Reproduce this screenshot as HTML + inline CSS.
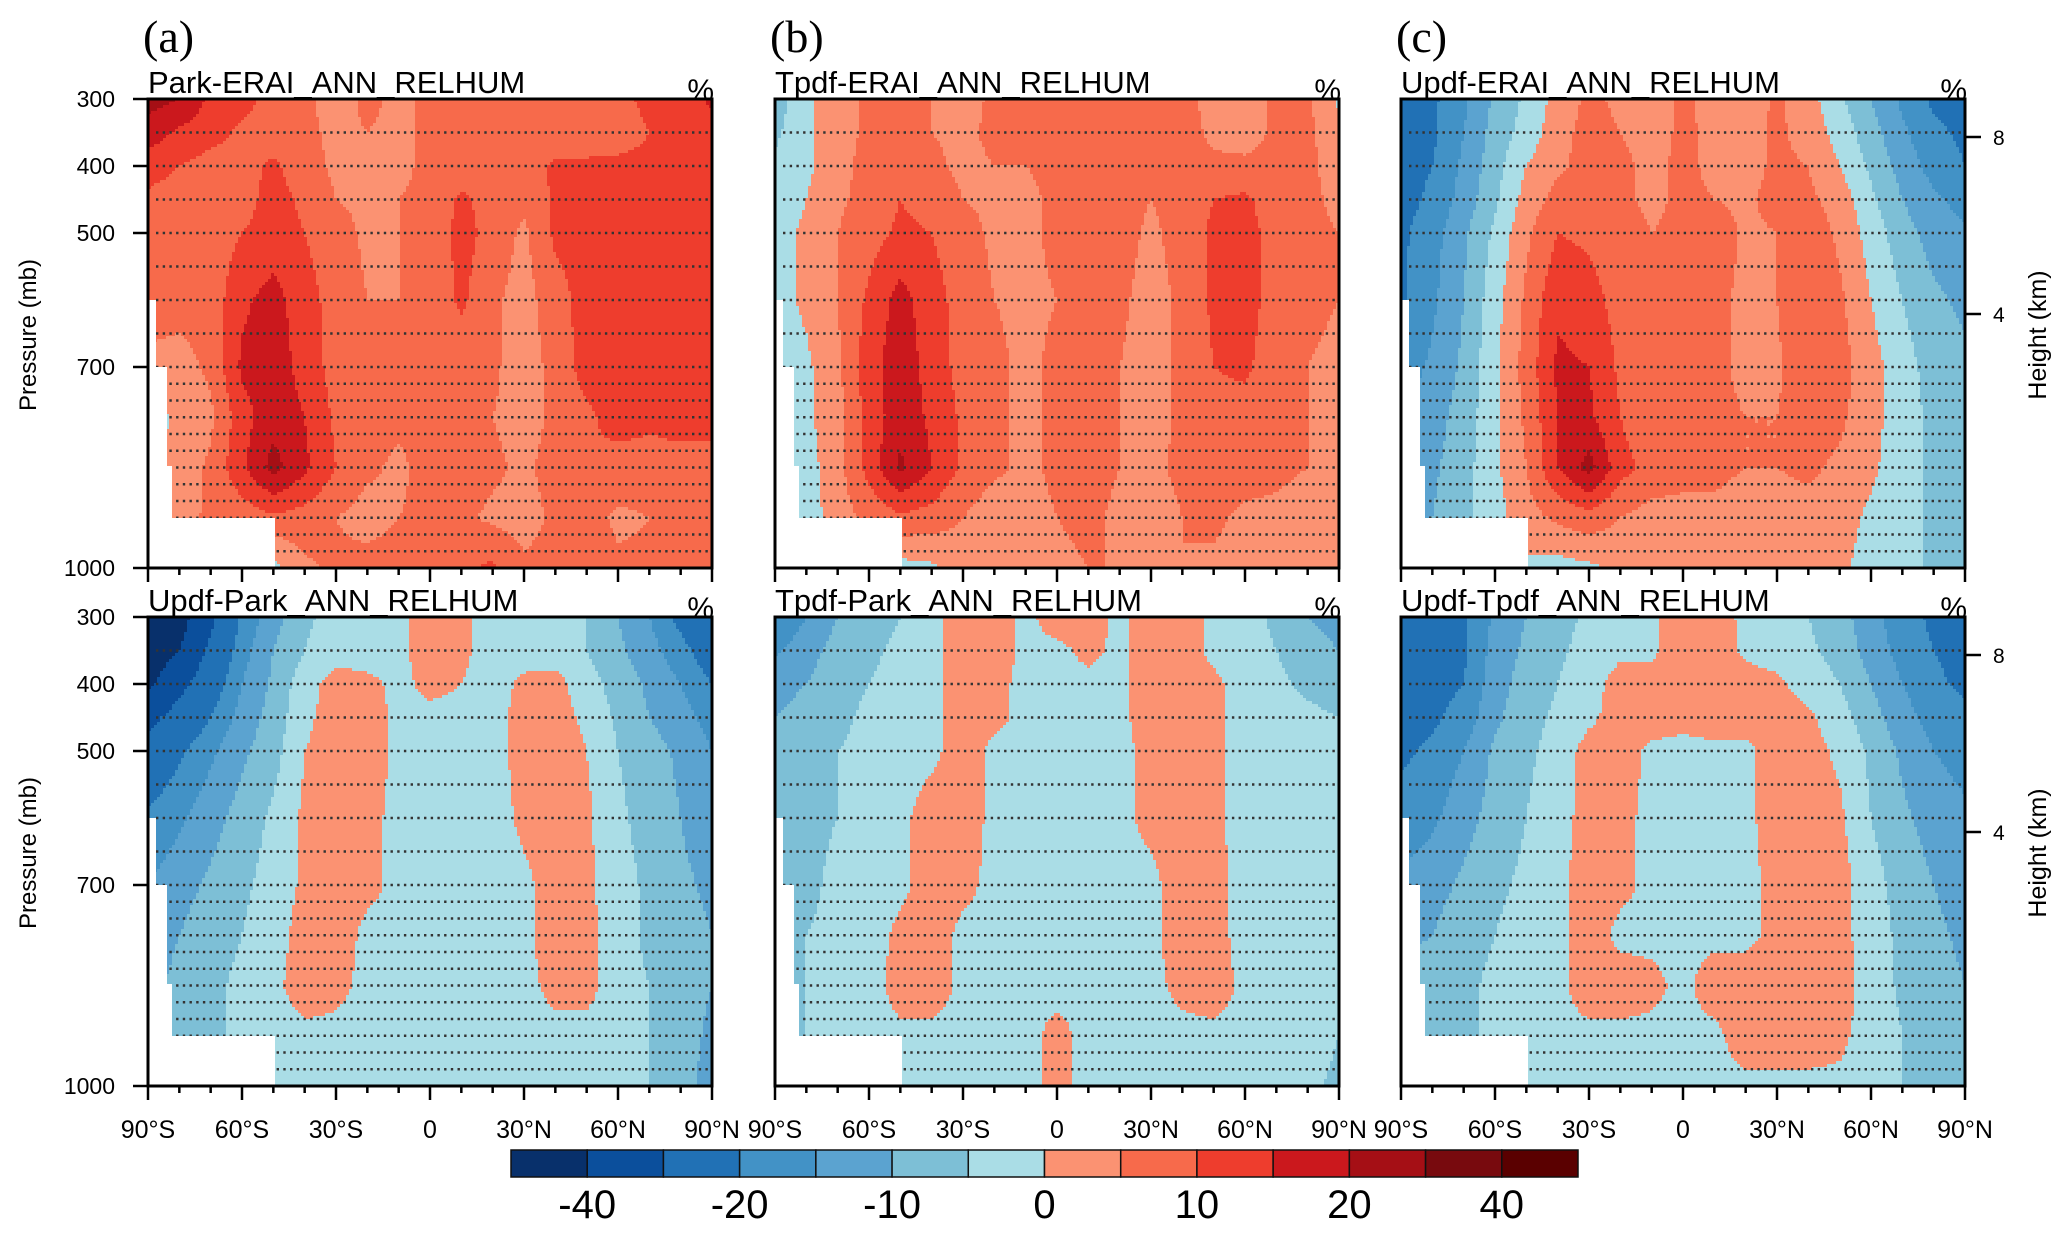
<!DOCTYPE html>
<html><head><meta charset="utf-8">
<style>
html,body{margin:0;padding:0;background:#fff;}
svg{display:block;font-family:"Liberation Sans",sans-serif;}
</style></head>
<body>
<svg id="fig" width="2067" height="1240" viewBox="0 0 2067 1240" xmlns="http://www.w3.org/2000/svg"></svg>
<script>
const lats=[-90,-80,-70,-60,-50,-40,-30,-20,-10,0,10,20,30,40,50,60,70,80,90];
const levels=[300,350,400,450,500,600,700,775,850,925,1000];
const contourLevels=[-40,-30,-20,-15,-10,-5,0,5,10,15,20,30,40];
const colorbarLabels=["-40","-20","-10","0","10","20","40"];
const colors=["#08306b","#0b4f9c","#2171b5","#4292c6","#5ba3d0","#7dbfd6","#aadde6","#fb9272","#f76a4b","#ee3d2d","#cb181d","#a50f15","#780a0e","#5a0000"];
const titles=["Park-ERAI_ANN_RELHUM","Tpdf-ERAI_ANN_RELHUM","Updf-ERAI_ANN_RELHUM","Updf-Park_ANN_RELHUM","Tpdf-Park_ANN_RELHUM","Updf-Tpdf_ANN_RELHUM"];
const dataA=[
[22,20,14,12,8,6,3,6,4,6,7,7,7,7,7,9,11,12,16],
[18,14,12,9,7,6,4,5,4,6,7,7,7,7,7,8,10,12,13],
[12,10,8,8,11,7,4,5,4,6,7,7,7,11,11,11,11,12,12],
[9,8,7,8,12,9,5,4,5,6,11,8,6,11,12,12,12,12,12],
[8,7,7,10,12,10,7,4,5,6,12,8,4,11,12,12,12,12,12],
[7,7,7,14,17,12,8,5,5,6,11,6,3,8,12,12,12,12,12],
[4,3,6,16,18,13,8,6,6,7,7,6,2,7,12,12,12,12,12],
[-2,1,4,13,18,15,9,7,6,7,7,5,3,6,9,12,11,12,12],
[-2,2,6,14,22,16,10,6,4,7,8,6,4,7,10,8,8,8,8],
[-2,3,6,7,9,8,5,3,5,6,6,4,3,6,7,4,5,6,7],
[-2,-2,-2,1,-2,4,6,7,7,8,9,11,6,7,8,6,6,8,10]];
const dataB=[
[-8,-1,3,6,6,5,3,6,6,6,6,6,7,7,3,3,6,6,-1],
[-6,-1,3,6,6,5,4,6,5,6,6,6,7,7,4,3,6,6,2],
[-4,-1,3,7,8,6,4,5,5,6,6,6,6,7,6,6,6,6,3],
[-3,0,4,7,10,8,5,4,4,6,6,7,5,7,10,11,7,6,4],
[-2,1,5,8,11,10,7,4,4,6,7,7,4,7,11,12,8,6,5],
[-2,1,5,11,17,12,8,5,4,5,6,6,3,6,11,12,8,6,5],
[-3,-1,4,13,18,13,8,6,4,6,6,5,3,6,10,11,7,5,4],
[-3,-1,3,12,18,14,9,6,4,6,7,5,3,6,8,8,6,5,4],
[-3,-2,3,12,21,15,9,6,4,6,7,5,4,6,7,7,6,5,4],
[-3,-3,3,6,9,8,5,2,3,5,6,4,3,5,6,4,4,3,2],
[0,0,0,-1,-2,-1,2,3,3,4,5,5,4,5,4,3,3,2,1]];
const dataC=[
[-22,-21,-16,-9,-4,2,6,4,2,6,3,2,6,2,-4,-10,-16,-21,-22],
[-22,-21,-15,-8,-3,3,7,5,3,6,4,3,6,3,-2,-8,-14,-19,-21],
[-22,-20,-14,-7,0,4,7,6,4,6,4,3,6,5,0,-6,-12,-17,-20],
[-22,-19,-13,-6,2,7,8,6,4,6,5,4,7,6,3,-4,-10,-14,-17],
[-21,-17,-11,-4,4,10,9,7,5,6,8,4,5,8,4,-2,-8,-12,-14],
[-21,-16,-10,-2,6,14,12,8,5,6,6,4,5,10,6,0,-5,-9,-11],
[-18,-14,-9,-1,7,16,15,9,5,6,6,4,4,10,7,2,-3,-7,-9],
[-15,-12,-8,-1,6,15,16,10,6,6,6,5,5,8,6,2,-3,-6,-8],
[-13,-11,-7,-1,5,15,22,12,8,6,6,5,5,6,4,1,-3,-6,-8],
[-11,-10,-6,-2,3,6,8,5,3,4,4,3,3,3,2,-1,-3,-6,-8],
[-9,-8,-6,-3,-1,-2,-1,1,2,3,2,2,2,2,1,-2,-3,-6,-9]];
const dataD=[
[-48,-44,-32,-19,-12,-6,-3,-2,-1,2,1,-2,-2,-3,-5,-10,-15,-22,-28],
[-46,-40,-28,-17,-10,-5,-2,-2,-1,2,1,-2,-2,-3,-5,-9,-13,-18,-24],
[-42,-33,-24,-15,-9,-2,2,1,-1,1,0,-2,1,2,-3,-7,-11,-15,-20],
[-33,-26,-20,-13,-8,-1,2,2,-1,-1,-1,-2,2,2,-1,-6,-10,-13,-17],
[-26,-21,-16,-11,-7,0,2,2,-1,-1,-1,-2,2,3,0,-5,-8,-11,-15],
[-19,-16,-12,-8,-4,1,2,1,-1,-1,-1,-2,1,2,1,-4,-7,-10,-13],
[-15,-12,-9,-6,-3,1,2,1,-1,-1,-1,-2,-1,2,1,-3,-6,-9,-11],
[-12,-10,-7,-5,-2,2,2,-1,-1,-1,-1,-2,-1,2,2,-3,-6,-8,-10],
[-11,-9,-6,-4,-1,2,1,-1,-1,-1,-1,-2,-1,1,2,-3,-5,-8,-10],
[-10,-8,-6,-4,-2,-1,-1,-1,-1,-1,-1,-2,-1,-1,-2,-3,-5,-8,-11],
[-9,-8,-6,-4,-2,-1,-1,-1,-1,-1,-1,-1,-1,-1,-2,-3,-5,-8,-12]];
const dataE=[
[-20,-15,-10,-7,-5,-1,2,2,-1,2,2,-1,2,2,-1,-3,-6,-10,-12],
[-16,-12,-8,-6,-4,-1,2,2,-1,-1,1,-1,2,2,-1,-3,-5,-8,-10],
[-12,-10,-7,-5,-3,-1,2,1,-1,-1,-1,-1,2,2,1,-2,-4,-6,-7],
[-10,-8,-6,-4,-3,-1,2,1,-1,-1,-1,-1,2,2,1,-2,-3,-4,-5],
[-9,-7,-5,-4,-2,-1,2,-1,-1,-1,-1,-1,1,2,1,-2,-3,-4,-4],
[-8,-6,-5,-3,-1,2,2,-1,-1,-1,-1,-1,1,2,1,-2,-3,-4,-4],
[-7,-6,-4,-2,-1,2,1,-1,-1,-1,-1,-1,-1,2,2,-2,-3,-3,-4],
[-7,-5,-4,-2,1,2,-1,-1,-1,-1,-1,-1,-1,2,2,-2,-3,-3,-4],
[-6,-5,-4,-2,2,2,-1,-1,-1,-1,-1,-1,-1,1,2,-1,-3,-3,-4],
[-6,-5,-4,-2,-1,-1,-1,-1,-1,1,-1,-1,-1,-1,-1,-1,-2,-3,-5],
[-5,-5,-4,-2,-1,-1,-1,-1,-1,1,-1,-1,-1,-1,-1,-1,-2,-4,-6]];
const dataF=[
[-22,-22,-21,-14,-10,-7,-4,-2,-1,3,2,-1,-3,-5,-8,-13,-18,-21,-24],
[-22,-22,-21,-13,-9,-6,-3,-1,-1,3,3,-1,-2,-4,-7,-12,-17,-20,-22],
[-22,-22,-20,-12,-8,-5,-2,2,2,3,3,2,1,-2,-5,-10,-15,-19,-21],
[-22,-21,-18,-11,-7,-4,-1,2,2,1,2,2,2,1,-3,-8,-13,-17,-19],
[-21,-19,-15,-9,-6,-3,2,2,-1,-1,-1,-1,2,2,-1,-6,-11,-15,-17],
[-18,-16,-12,-8,-5,-2,2,1,-1,-1,-1,-1,2,2,1,-5,-9,-12,-14],
[-14,-12,-9,-6,-4,-1,2,1,-1,-1,-1,-1,1,2,2,-3,-7,-10,-12],
[-11,-10,-7,-5,-3,-1,2,-1,-1,-1,-1,-1,1,2,2,-3,-6,-9,-11],
[-9,-8,-6,-4,-3,-1,2,2,1,-1,2,2,2,2,2,-2,-6,-8,-10],
[-8,-7,-6,-4,-3,-1,-1,-1,-1,-1,-1,2,2,2,1,-2,-5,-7,-10],
[-7,-7,-6,-4,-3,-1,-1,-1,-1,-1,-1,-1,-1,-1,-1,-2,-5,-7,-9]];
const panelData=[dataA,dataB,dataC,dataD,dataE,dataF];
const yTicks=[300,400,500,700,1000];
const xTicks=[-90,-60,-30,0,30,60,90];
const xTickLabels=["90°S","60°S","30°S","0","30°N","60°N","90°N"];
const stippleLevels=[350,400,450,500,550,600,650,700,725,750,775,800,825,850,875,900,925,950,975];

const NS="http://www.w3.org/2000/svg";
const svg=document.getElementById('fig');
function mk(tag,attrs,parent){const e=document.createElementNS(NS,tag);for(const k in attrs)e.setAttribute(k,attrs[k]);(parent||svg).appendChild(e);return e;}
const PW=564,PH=469;
const PX=[148,775,1401],PY=[99,617];
function colorFor(v){let i=0;while(i<contourLevels.length&&v>=contourLevels[i])i++;return colors[i];}
function sample(d,lat,p){
  let i=Math.min(lats.length-2,Math.max(0,Math.floor((lat+90)/10)));
  let tx=(lat-lats[i])/10;
  let j=0;while(j<levels.length-2&&p>levels[j+1])j++;
  let ty=(p-levels[j])/(levels[j+1]-levels[j]);
  const a=d[j][i],b=d[j][i+1],c=d[j+1][i],e=d[j+1][i+1];
  return a*(1-tx)*(1-ty)+b*tx*(1-ty)+c*(1-tx)*ty+e*tx*ty;
}
const letters=["(a)","(b)","(c)"];
for(let k=0;k<6;k++){
  const col=k%3,row=Math.floor(k/3);
  const x0=PX[col],y0=PY[row];
  const xs=lat=>x0+(lat+90)/180*PW;
  const ys=p=>y0+(p-300)/700*PH;
  const g=mk('g',{});
  
  
  const cg=mk('g',{'shape-rendering':'crispEdges'},g);
  
  
  const cs=3;
  for(let y=0;y<PH;y+=cs){
    const p=300+(y+cs/2)/PH*700;
    let runStart=0,runColor=null;
    for(let x=0;x<=PW;x+=cs){
      let c=null;
      if(x<PW){const lat=-90+(x+cs/2)/PW*180;c=colorFor(sample(panelData[k],lat,p));}
      if(c!==runColor){
        if(runColor){mk('rect',{x:x0+runStart,y:y0+y,width:Math.min(x,PW)-runStart,height:Math.min(cs,PH-y),fill:runColor},cg);}
        runStart=x;runColor=c;
      }
    }
  }
  const sg=mk('g',{},g);
  
  
  stippleLevels.forEach(p=>{mk('line',{x1:x0+8,x2:x0+PW-4,y1:ys(p),y2:ys(p),stroke:'#333','stroke-width':2.4,'stroke-dasharray':'2.4 4.3'},sg);});
  const mask=mk('path',{fill:'#fff',d:`M${x0},${y0+201}h8v67h11v99h5v52h103v50h-127z`},g);
  
  
  const fr=mk('rect',{x:x0,y:y0,width:PW,height:PH,fill:'none',stroke:'#000','stroke-width':3},g);
  
  
  const t=mk('text',{x:x0,y:y0-6,'font-size':31,fill:'#000'},g);t.textContent=titles[k];
  
  
  const pc=mk('text',{x:x0+PW+2,y:y0+1,'font-size':30,'text-anchor':'end'},g);pc.textContent='%';
  
  
  for(let lat=-90;lat<=90;lat+=10){const major=lat%30===0;mk('line',{x1:xs(lat),x2:xs(lat),y1:y0+PH,y2:y0+PH+(major?14:7),stroke:'#000','stroke-width':2.5},g);}
  if(row===1){xTicks.forEach((lat,i)=>{const tl=mk('text',{x:xs(lat),y:y0+PH+52,'font-size':25,'text-anchor':'middle'},g);tl.textContent=xTickLabels[i];
    
    });}
  if(col===0){
    yTicks.forEach(p=>{mk('line',{x1:x0-15,x2:x0,y1:ys(p),y2:ys(p),stroke:'#000','stroke-width':2.5},g);
      const yl=mk('text',{x:x0-33,y:ys(p)+8,'font-size':23,'text-anchor':'end'},g);yl.textContent=p;
      
      });
    const ya=mk('text',{x:0,y:0,'font-size':24,'text-anchor':'middle',transform:`translate(36,${y0+236}) rotate(-90)`},g);ya.textContent='Pressure (mb)';
    
    
  }
  if(col===2){
    [[8,y0+38],[4,y0+215]].forEach(([h,yy])=>{mk('line',{x1:x0+PW,x2:x0+PW+16,y1:yy,y2:yy,stroke:'#000','stroke-width':2.5},g);
      const hl=mk('text',{x:x0+PW+28,y:yy+8,'font-size':21},g);hl.textContent=h;
      
      });
    const ha=mk('text',{x:0,y:0,'font-size':25,'text-anchor':'middle',transform:`translate(2046,${y0+236}) rotate(-90)`},g);ha.textContent='Height (km)';
    
    
  }
  if(row===0){const lt=mk('text',{x:x0-5,y:52,'font-size':46,'font-family':'Liberation Serif, serif'},g);lt.textContent=letters[col];
    
    }
}
const cb=mk('g',{});


const cbx=511,cbw=1067,cby=1150,cbh=27,bw=cbw/colors.length;
colors.forEach((c,i)=>{const r=mk('rect',{x:cbx+i*bw,y:cby,width:bw,height:cbh,fill:c,stroke:'#111','stroke-width':1.5},cb);
  
  });
colorbarLabels.forEach((s,i)=>{const t=mk('text',{x:cbx+(1+2*i)*bw,y:1218,'font-size':40,'text-anchor':'middle'},cb);t.textContent=s;
  
  });
</script>
</body></html>
